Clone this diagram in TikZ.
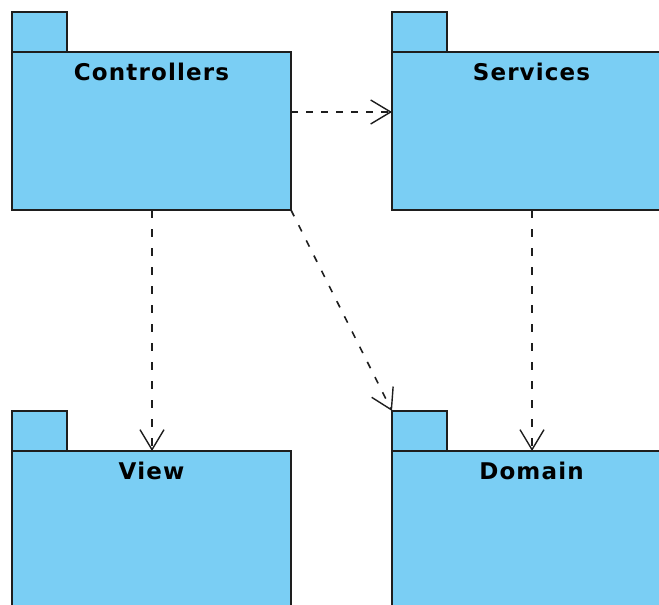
\documentclass[tikz,border=0pt]{standalone}
\usepackage{fontspec}
\setmainfont{DejaVu Sans}
\usetikzlibrary{arrows.meta}
\definecolor{pkgblue}{HTML}{7ACEF4}
\definecolor{edge}{HTML}{1E1E1E}
\tikzset{
  pkgtab/.style={draw=edge, fill=pkgblue, line width=1.6pt},
  pkgbody/.style={draw=edge, fill=pkgblue, line width=1.6pt, minimum width=279pt, minimum height=158pt, inner sep=0pt, outer sep=0pt, anchor=north west},
  pkglabel/.style={font=\bfseries\fontsize{23}{27}\selectfont\addfontfeature{LetterSpace=5}, anchor=base, inner sep=0pt},
  dep/.style={draw=edge, line width=1.6pt, dash pattern=on 7pt off 8pt,
    -{Straight Barb[length=20pt,width=24pt,line width=1.4pt]}},
  longdash/.style={dash pattern=on 8pt off 11pt}
}
\begin{document}
\begin{tikzpicture}[x=1pt,y=-1pt]
  \useasboundingbox (0,0) rectangle (659,605);
  \clip (0,0) rectangle (659,605);
  % package tabs
  \draw[pkgtab] (12,12) rectangle (67,52);
  \draw[pkgtab] (392,12) rectangle (447,52);
  \draw[pkgtab] (12,411) rectangle (67,451);
  \draw[pkgtab] (392,411) rectangle (447,451);
  \coordinate (dtab) at (392,411);
  % package bodies
  \node[pkgbody] (ctrl) at (12,52) {};
  \node[pkgbody] (serv) at (392,52) {};
  \node[pkgbody] (view) at (12,451) {};
  \node[pkgbody] (dom) at (392,451) {};
  \node[pkglabel] at ([yshift=-28pt]ctrl.north) {Controllers};
  \node[pkglabel] at ([yshift=-28pt]serv.north) {Services};
  \node[pkglabel] at ([yshift=-28pt]view.north) {View};
  \node[pkglabel] at ([yshift=-28pt]dom.north) {Domain};
  % dependencies
  \draw[dep] (ctrl.east |- 0,112) -- (serv.west |- 0,112);
  \draw[dep, longdash] ([xshift=0.5pt]ctrl.south) -- ([xshift=0.5pt]view.north);
  \draw[dep, longdash] ([xshift=0.5pt]serv.south) -- ([xshift=0.5pt]dom.north);
  \draw[dep, dash pattern=on 7pt off 10pt] (ctrl.south east) -- (dtab);
\end{tikzpicture}
\end{document}
